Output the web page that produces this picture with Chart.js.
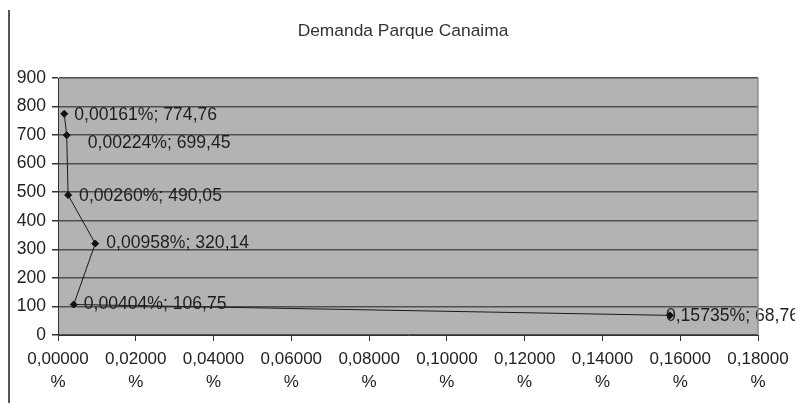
<!DOCTYPE html>
<html lang="es">
<head>
    <meta charset="UTF-8" />
    <title>Demanda Parque Canaima</title>
    <script src="https://cdn.jsdelivr.net/npm/chart.js"></script>
    <style>
        html, body {
            margin: 0;
            padding: 0;
            background: #ffffff;
        }
        .chart-box {
            width: 795px;
            height: 403px;
        }
    </style>
</head>
<body>

<div class="chart-box">
    <canvas id="demandChart" width="795" height="403"></canvas>
</div>

<script>
    const chartTitle = 'Demanda Parque Canaima';
    const demandPct = [0.00161, 0.00224, 0.00260, 0.00958, 0.00404, 0.15735];
    const demandValues = [774.76, 699.45, 490.05, 320.14, 106.75, 68.76];
    const xTicks = [0, 0.02, 0.04, 0.06, 0.08, 0.10, 0.12, 0.14, 0.16, 0.18];
    const yTicks = [0, 100, 200, 300, 400, 500, 600, 700, 800, 900];

    // label nudges (px) as they were dragged in the original sheet
    const labelShift = [[10, 1], [21, 8], [11, 1], [11, 0], [10, 0], [-4, 1]];

    const FONT = 'Arial, "Liberation Sans", sans-serif';
    const comma = (v, d) => v.toFixed(d).replace('.', ',');

    const points = demandPct.map((x, i) => ({ x: x, y: demandValues[i] }));

    const sheetStyle = {
        id: 'sheetStyle',
        beforeDraw(chart) {
            const ctx = chart.ctx;
            const a = chart.chartArea;
            ctx.save();
            ctx.fillStyle = '#b3b3b5';
            ctx.fillRect(a.left, a.top, a.right - a.left, a.bottom - a.top);
            ctx.restore();
        },
        afterDraw(chart) {
            const ctx = chart.ctx;
            const a = chart.chartArea;
            ctx.save();
            // right edge of plot
            ctx.strokeStyle = '#8e8e90';
            ctx.lineWidth = 1.5;
            ctx.beginPath();
            ctx.moveTo(a.right, a.top);
            ctx.lineTo(a.right, a.bottom);
            ctx.stroke();
            // page edge on the left
            ctx.strokeStyle = '#555';
            ctx.lineWidth = 2;
            ctx.beginPath();
            ctx.moveTo(9, 10);
            ctx.lineTo(9, 403);
            ctx.stroke();
            // title
            ctx.fillStyle = '#333';
            ctx.font = '17.4px ' + FONT;
            ctx.textAlign = 'center';
            ctx.textBaseline = 'middle';
            ctx.fillText(chartTitle, 403, 31);
            ctx.restore();
        },
        afterDatasetsDraw(chart) {
            const ctx = chart.ctx;
            const meta = chart.getDatasetMeta(0);
            ctx.save();
            ctx.fillStyle = '#1e1e1e';
            ctx.font = '17.6px ' + FONT;
            ctx.textAlign = 'left';
            ctx.textBaseline = 'middle';
            meta.data.forEach((el, i) => {
                const txt = comma(demandPct[i], 5) + '%; ' + comma(demandValues[i], 2);
                ctx.fillText(txt, el.x + labelShift[i][0], el.y + labelShift[i][1]);
            });
            ctx.restore();
        }
    };

    new Chart(document.getElementById('demandChart'), {
        type: 'scatter',
        data: {
            datasets: [{
                data: points,
                showLine: true,
                borderColor: '#1a1a1a',
                borderWidth: 1,
                pointStyle: 'rectRot',
                pointRadius: 3.5,
                pointBackgroundColor: '#111',
                pointBorderColor: '#111'
            }]
        },
        options: {
            responsive: false,
            animation: false,
            layout: {
                padding: { left: 0, right: 37, top: 78, bottom: 0 }
            },
            plugins: {
                legend: { display: false },
                tooltip: { enabled: false },
                title: { display: false }
            },
            scales: {
                x: {
                    type: 'linear',
                    min: 0,
                    max: 0.18,
                    afterBuildTicks(scale) {
                        scale.ticks = xTicks.map(v => ({ value: v }));
                    },
                    afterFit(scale) {
                        scale.height = 68;
                    },
                    border: { color: '#333', width: 1 },
                    grid: {
                        drawOnChartArea: false,
                        drawTicks: true,
                        tickLength: 6,
                        tickColor: '#333'
                    },
                    ticks: {
                        padding: 6,
                        maxRotation: 0,
                        autoSkip: false,
                        color: '#222',
                        font: { family: FONT, size: 17, lineHeight: 1.4 },
                        callback: v => [comma(v, 5), '%']
                    }
                },
                y: {
                    min: 0,
                    max: 900,
                    afterBuildTicks(scale) {
                        scale.ticks = yTicks.map(v => ({ value: v }));
                    },
                    afterFit(scale) {
                        scale.width = 58;
                    },
                    border: { color: '#333', width: 1 },
                    grid: {
                        color: '#505052',
                        lineWidth: 1.5,
                        tickLength: 6,
                        tickColor: '#333'
                    },
                    ticks: {
                        padding: 6,
                        color: '#222',
                        font: { family: FONT, size: 17.5 }
                    }
                }
            }
        },
        plugins: [sheetStyle]
    });
</script>

</body>
</html>
